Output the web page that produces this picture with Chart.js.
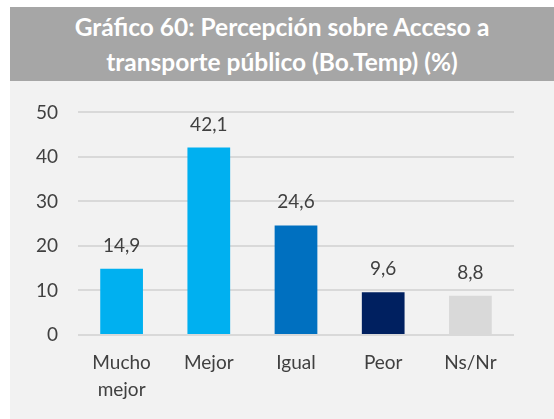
<!DOCTYPE html>
<html>

<head>
    <meta charset="utf-8">
    <title>Gráfico 60</title>
    <script src="https://cdn.jsdelivr.net/npm/chart.js"></script>
    <style>
        body {
            margin: 0;
            background: #fff;
            font-family: Lato, sans-serif;
        }

        #box {
            position: absolute;
            left: 10px;
            top: 7px;
            width: 544px;
        }

        #title {
            height: 74px;
            background: #a6a6a6;
            color: #fff;
            font-weight: bold;
            font-size: 24.5px;
            line-height: 35px;
            text-align: center;
            padding-top: 2px;
            box-sizing: border-box;
        }

        #panel {
            height: 338px;
            background: #f2f2f2;
        }

        canvas {
            display: block;
        }
    </style>
</head>

<body>
    <div id="box">
        <div id="title">Gráfico 60: Percepción sobre Acceso a<br>transporte público (Bo.Temp) (%)</div>
        <div id="panel">
            <canvas id="barChart" width="544" height="338"></canvas>
        </div>
    </div>

    <script>
        const categories = [['Mucho', 'mejor'], 'Mejor', 'Igual', 'Peor', 'Ns/Nr'];
        const values = [14.9, 42.1, 24.6, 9.6, 8.8];
        const barColors = ['#00b0f0', '#00b0f0', '#0070c0', '#002060', '#d9d9d9'];
        const yTicks = [0, 10, 20, 30, 40, 50];

        const textColor = '#404040';
        const fontFamily = 'Lato, sans-serif';

        // values above each bar, with a decimal comma
        const valueLabels = {
            id: 'valueLabels',
            afterDatasetsDraw(chart) {
                const ctx = chart.ctx;
                const meta = chart.getDatasetMeta(0);
                ctx.save();
                ctx.font = '19px ' + fontFamily;
                ctx.fillStyle = textColor;
                ctx.textAlign = 'center';
                ctx.textBaseline = 'alphabetic';
                meta.data.forEach((bar, i) => {
                    const txt = values[i].toFixed(1).replace('.', ',');
                    ctx.fillText(txt, bar.x, bar.y - 17);
                });
                ctx.restore();
            }
        };

        const ctx = document.getElementById('barChart').getContext('2d');
        new Chart(ctx, {
            type: 'bar',
            data: {
                labels: categories,
                datasets: [{
                    data: values,
                    backgroundColor: barColors,
                    barPercentage: 0.49,
                    categoryPercentage: 1
                }]
            },
            options: {
                responsive: false,
                animation: false,
                layout: {
                    padding: { left: 0, right: 40, top: 30, bottom: 0 }
                },
                plugins: {
                    legend: { display: false },
                    tooltip: { enabled: false }
                },
                scales: {
                    x: {
                        grid: { display: false },
                        border: { display: false },
                        ticks: {
                            color: textColor,
                            font: { family: fontFamily, size: 19, lineHeight: 1.42 },
                            padding: 6,
                            maxRotation: 0
                        },
                        afterFit(scale) { scale.height = 84; }
                    },
                    y: {
                        min: 0,
                        max: 50,
                        border: { display: false },
                        grid: { color: '#d9d9d9', lineWidth: 2, drawTicks: false },
                        afterBuildTicks(scale) {
                            scale.ticks = yTicks.map(v => ({ value: v }));
                        },
                        ticks: {
                            color: textColor,
                            font: { family: fontFamily, size: 19 },
                            padding: 20
                        },
                        afterFit(scale) { scale.width = 68; }
                    }
                }
            },
            plugins: [valueLabels]
        });
    </script>
</body>

</html>
